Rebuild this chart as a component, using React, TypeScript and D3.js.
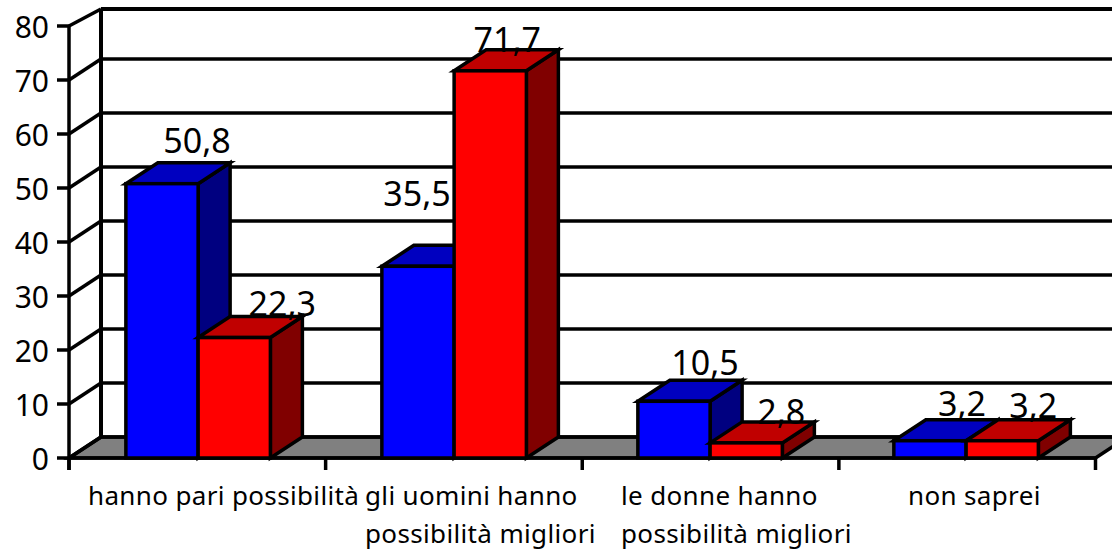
import React from 'react';
import * as d3 from 'd3';

const categories = ['hanno pari possibilità', 'gli uomini hanno|possibilità migliori', 'le donne hanno|possibilità migliori', 'non saprei'];
const seriesNames = ['blu', 'rosso'];
const blueValues = [50.8, 35.5, 10.5, 3.2];
const redValues = [22.3, 71.7, 2.8, 3.2];
const yTicks = [0, 10, 20, 30, 40, 50, 60, 70, 80];

// the labels were hand-placed in the original, so each one has its own nudge
const blueNudges = [[35, -31], [-1, -60], [31, -26], [32, -25]];
const redNudges = [[48, -22], [17, -19], [35, -19], [31, -23]];
const categoryLabelX = [88, 365, 621, 908];

const width = 1112;
const height = 552;
const left = 69;
const right = 1095.5;
const depthX = 32;
const depthY = 21;
const backTop = 9;
const sw = 3.5;
const fontFamily = '"Noto Sans", sans-serif';

const colors = {
  blu: { front: '#0000ff', top: '#0000c0', side: '#000080' },
  rosso: { front: '#ff0000', top: '#c00000', side: '#800000' },
};

const App = () => {
  const y = d3.scaleLinear().domain([0, 80]).range([458, 26]);
  const x0 = d3.scaleBand().domain(categories).range([left, left + 1024]).paddingInner(0.4355).paddingOuter(0.2178).align(0.51);
  const x1 = d3.scaleBand().domain(seriesNames).range([0, x0.bandwidth()]);
  const backY = (v: number) => Math.max(y(v) - depthY, backTop);
  const tickXs = d3.range(categories.length + 1).map((i) => left + (i * (right - left)) / categories.length);
  const poly = (pts: number[][]) => pts.map((p) => p.join(',')).join(' ');

  const bars = categories.flatMap((c, i) =>
    seriesNames.map((s, j) => ({
      key: c + s,
      x: (x0(c) as number) + (x1(s) as number),
      w: x1.bandwidth(),
      top: y(j === 0 ? blueValues[i] : redValues[i]),
      color: colors[s as 'blu' | 'rosso'],
    }))
  );

  const labels = categories.flatMap((c, i) =>
    seriesNames.map((s, j) => {
      const value = j === 0 ? blueValues[i] : redValues[i];
      const nudge = j === 0 ? blueNudges[i] : redNudges[i];
      const cx = (x0(c) as number) + (x1(s) as number) + x1.bandwidth() / 2;
      return { key: c + s, x: cx + nudge[0], y: y(value) + nudge[1], text: String(value).replace('.', ',') };
    })
  );

  return (
    <svg width={width} height={height} style={{ position: 'absolute', left: 0, top: 0 }} fontFamily={fontFamily}>
      <rect width={width} height={height} fill="#ffffff" />
      {/* floor */}
      <polygon
        points={poly([[left, y(0)], [left + depthX, backY(0)], [right + depthX, backY(0)], [right, y(0)]])}
        fill="#808080"
        stroke="#000"
        strokeWidth={sw}
      />
      {/* grid on the back wall and the left side wall */}
      {yTicks.map((t) => (
        <g key={t} stroke="#000" strokeWidth={sw}>
          <line x1={left + depthX} x2={width} y1={backY(t)} y2={backY(t)} strokeWidth={t === 80 ? 4 : sw} />
          <line x1={left} x2={left + depthX} y1={y(t)} y2={backY(t)} />
          <line x1={left - 12} x2={left} y1={y(t)} y2={y(t)} />
        </g>
      ))}
      <line x1={left + depthX} x2={left + depthX} y1={backTop} y2={backY(0)} stroke="#000" strokeWidth={4} />
      <line x1={left} x2={left} y1={y(80)} y2={y(0) + 12} stroke="#000" strokeWidth={sw} />
      <line x1={left} x2={right} y1={y(0)} y2={y(0)} stroke="#000" strokeWidth={sw} />
      {tickXs.map((t) => (
        <line key={t} x1={t} x2={t} y1={y(0)} y2={y(0) + 12} stroke="#000" strokeWidth={sw} />
      ))}
      {/* bars */}
      {bars.map((b) => (
        <g key={b.key} stroke="#000" strokeWidth={sw} strokeLinejoin="miter">
          <polygon
            points={poly([[b.x + b.w, b.top], [b.x + b.w + depthX, b.top - depthY], [b.x + b.w + depthX, y(0) - depthY], [b.x + b.w, y(0)]])}
            fill={b.color.side}
          />
          <polygon
            points={poly([[b.x, b.top], [b.x + depthX, b.top - depthY], [b.x + b.w + depthX, b.top - depthY], [b.x + b.w, b.top]])}
            fill={b.color.top}
          />
          <rect x={b.x} y={b.top} width={b.w} height={y(0) - b.top} fill={b.color.front} />
        </g>
      ))}
      {/* value labels */}
      {labels.map((l) => (
        <text key={l.key} x={l.x} y={l.y} textAnchor="middle" fontSize={34} fill="#000">
          {l.text}
        </text>
      ))}
      {/* y tick labels */}
      {yTicks.map((t) => (
        <text key={t} x={49} y={y(t) + 12} textAnchor="end" fontSize={30} fill="#000">
          {t}
        </text>
      ))}
      {/* category labels */}
      {categories.map((c, i) =>
        c.split('|').map((line, k) => (
          <text key={line + i} x={categoryLabelX[i]} y={505 + k * 38} fontSize={26} letterSpacing={0.35} fill="#000">
            {line}
          </text>
        ))
      )}
    </svg>
  );
};

export default App;
